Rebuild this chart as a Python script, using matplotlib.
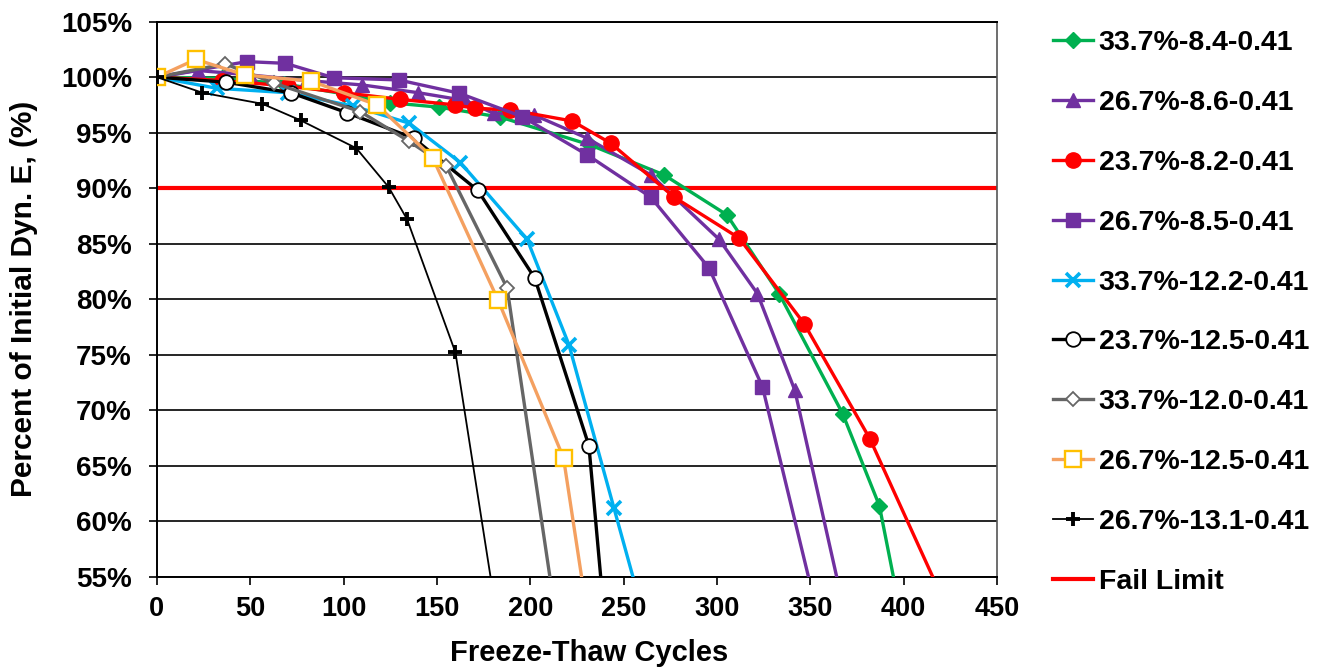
import numpy as np
import matplotlib
matplotlib.use("Agg")
import matplotlib.pyplot as plt
from matplotlib.ticker import FuncFormatter, MultipleLocator

# -----------------------------
# Freeze-thaw data (cycles, % of initial dynamic modulus)
# -----------------------------
labels = ["33.7%-8.4-0.41", "26.7%-8.6-0.41", "23.7%-8.2-0.41",
          "26.7%-8.5-0.41", "33.7%-12.2-0.41", "23.7%-12.5-0.41",
          "33.7%-12.0-0.41", "26.7%-12.5-0.41", "26.7%-13.1-0.41"]

cyc_g84 = [0, 35, 68, 100, 125, 151, 184, 232, 271.6, 305.3, 333.3, 367.3, 387, 400.4]
pct_g84 = [100, 99.9, 99.4, 98.5, 97.7, 97.3, 96.4, 93.9, 91.2, 87.6, 80.5, 69.7, 61.4, 50]

cyc_t86 = [0, 22, 50, 80, 110, 140, 165, 180.4, 201.9, 230.5, 264.5, 301.1, 321.7, 341.7, 370.8]
pct_t86 = [100, 100.6, 100.2, 99.7, 99.3, 98.6, 97.9, 96.75, 96.6, 94.5, 91.2, 85.4, 80.5, 71.8, 50]

cyc_r82 = [0, 35, 70, 100, 130.4, 159.9, 170.6, 189.4, 222.5, 243.1, 277, 311.9, 346.7, 382, 429.1]
pct_r82 = [100, 99.7, 99.2, 98.6, 98.0, 97.5, 97.2, 97.05, 96.05, 94.05, 89.2, 85.5, 77.8, 67.4, 50]

cyc_s85 = [0, 48.1, 68.7, 94.6, 129.5, 162, 195.6, 230.5, 264.5, 295.8, 324.4, 356.2]
pct_s85 = [100, 101.4, 101.25, 99.95, 99.75, 98.55, 96.45, 93.0, 89.2, 82.8, 72.1, 50]

cyc_c122 = [0, 32, 70, 105, 135.2, 162.6, 198.3, 220.7, 244.8, 263.2]
pct_c122 = [100, 99.0, 98.6, 97.4, 95.85, 92.3, 85.4, 75.9, 61.2, 50]

cyc_o125 = [0, 36.9, 71.7, 101.8, 137.5, 171.9, 202.4, 231.4, 240.4]
pct_o125 = [100, 99.55, 98.6, 96.8, 94.5, 89.8, 81.9, 66.8, 50]

cyc_d120 = [0, 36.5, 62.9, 108.9, 134.8, 155, 187.6, 214.9]
pct_d120 = [100, 101.2, 99.45, 96.9, 94.25, 92.0, 81.0, 50]

cyc_q125 = [0, 20.8, 47.2, 82.5, 117.9, 147.7, 182.8, 217.8, 232.0]
pct_q125 = [100, 101.6, 100.2, 99.65, 97.5, 92.75, 79.9, 65.7, 50]

cyc_p131 = [0, 24.3, 56.5, 77.1, 106.8, 124.1, 134, 159.9, 183.35]
pct_p131 = [100, 98.6, 97.6, 96.1, 93.6, 90.1, 87.2, 75.2, 50]

fail_limit = 90

# -----------------------------
# Plot
# -----------------------------
plt.rcParams["font.family"] = ["Liberation Sans", "DejaVu Sans"]
fig = plt.figure(figsize=(13.21, 6.69), dpi=100)
ax = fig.add_axes([0.1188, 0.138, 0.6359, 0.8296])

purple = "#7030A0"
ax.plot(cyc_g84, pct_g84, color="#00B050", lw=2.4, marker="D", ms=8,
        label=labels[0], zorder=3)
ax.plot(cyc_t86, pct_t86, color=purple, lw=2.4, marker="^", ms=10,
        label=labels[1], zorder=3)
ax.plot(cyc_r82, pct_r82, color="#FF0000", lw=2.4, marker="o", ms=11,
        label=labels[2], zorder=3)
ax.plot(cyc_s85, pct_s85, color=purple, lw=2.4, marker="s", ms=10.5,
        label=labels[3], zorder=3)
ax.plot(cyc_c122, pct_c122, color="#00B0F0", lw=2.4, marker="x", ms=9.5,
        mew=2.6, label=labels[4], zorder=3)
ax.plot(cyc_o125, pct_o125, color="black", lw=2.4, marker="o", ms=10.5,
        mfc="white", mec="black", mew=1.3, label=labels[5], zorder=3)
ax.plot(cyc_d120, pct_d120, color="#666666", lw=2.4, marker="D", ms=7.5,
        mfc="white", mec="#666666", mew=1.3, label=labels[6], zorder=3)
ax.plot(cyc_q125, pct_q125, color="#F4A060", lw=2.4, marker="s", ms=11.5,
        mfc="white", mec="#FFC000", mew=1.7, label=labels[7], zorder=3)
ax.plot(cyc_p131, pct_p131, color="black", lw=1.3, marker="+", ms=10.5,
        mew=2.8, label=labels[8], zorder=3)
ax.axhline(fail_limit, color="#FF0000", lw=3, label="Fail Limit", zorder=2)

# axes styling
ax.set_xlim(0, 450)
ax.set_ylim(55, 105)
ax.xaxis.set_major_locator(MultipleLocator(50))
ax.yaxis.set_major_locator(MultipleLocator(5))
ax.yaxis.grid(True, color="black", lw=1.2)
ax.set_axisbelow(True)
ax.yaxis.set_major_formatter(FuncFormatter(lambda v, p: f"{v:.0f}%"))
ax.tick_params(axis="both", direction="out", length=6, width=1.2, color="black")
ax.tick_params(axis="y", labelsize=20, pad=12)
ax.tick_params(axis="x", labelsize=19.5, pad=8)
for lab in ax.get_yticklabels() + ax.get_xticklabels():
    lab.set_fontweight("bold")
for side in ["left", "bottom", "top"]:
    ax.spines[side].set_color("black")
    ax.spines[side].set_linewidth(1.4)
ax.spines["right"].set_color("#555555")
ax.spines["right"].set_linewidth(1.2)

ax.set_xlabel("Freeze-Thaw Cycles", fontsize=21, fontweight="bold")
ax.xaxis.set_label_coords(0.515, -0.113)
ax.set_ylabel("Percent of Initial Dyn. E, (%)", fontsize=21.5, fontweight="bold")
ax.yaxis.set_label_coords(-0.142, 0.5)

ax.legend(loc="upper left", bbox_to_anchor=(1.067, 0.985), frameon=False,
          prop={"size": 20.5, "weight": "bold"}, handlelength=1.4,
          handletextpad=0.2, labelspacing=1.19, borderaxespad=0, borderpad=0)

fig.savefig("out.png", dpi=100)
